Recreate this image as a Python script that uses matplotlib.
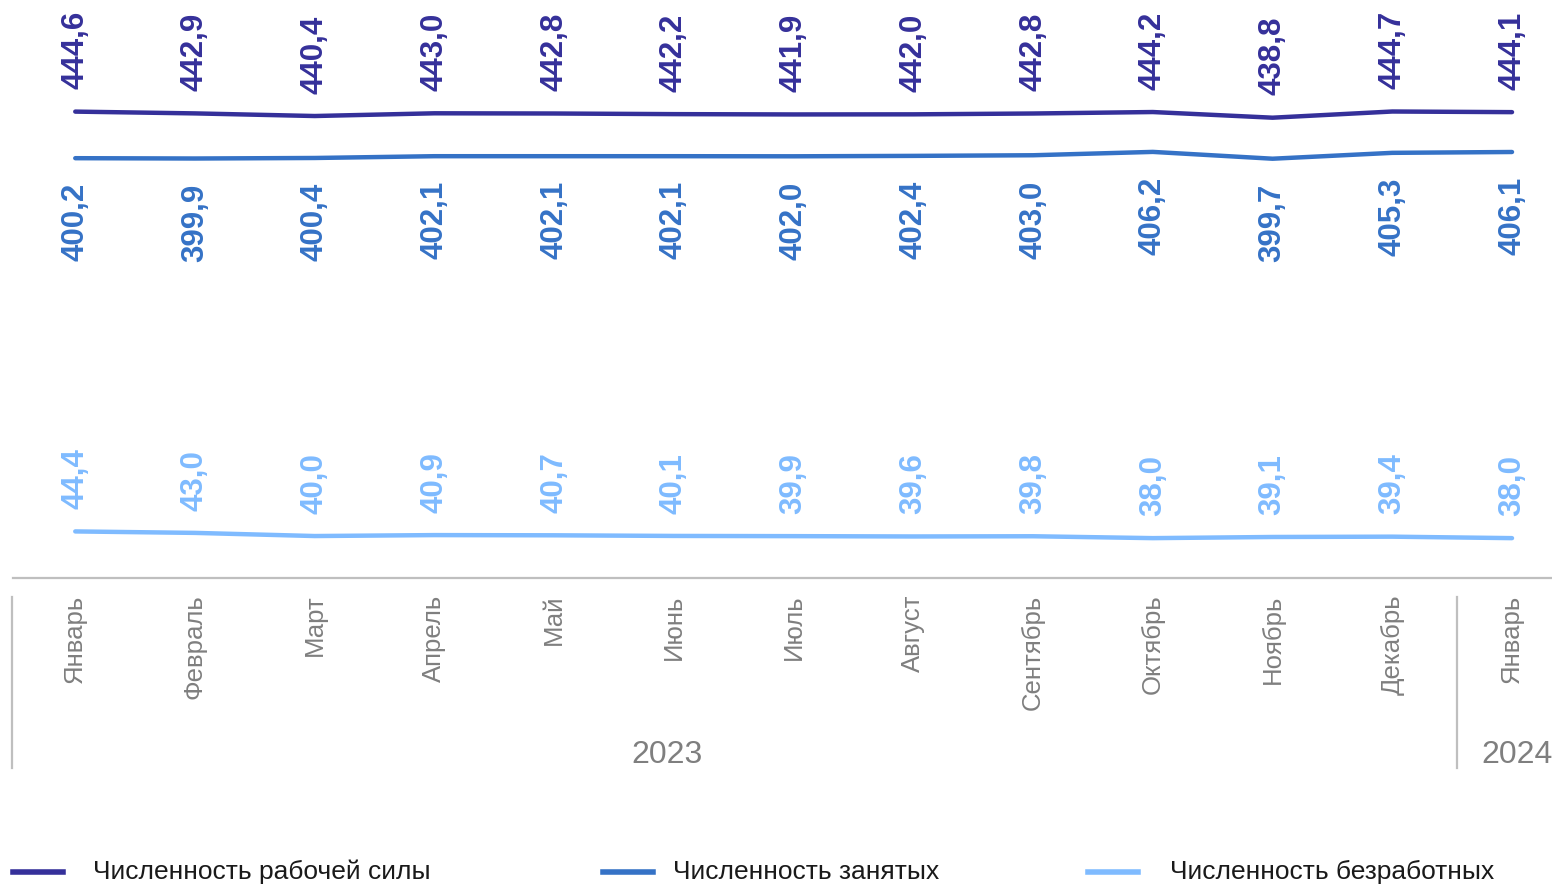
import matplotlib
matplotlib.use("Agg")
import matplotlib.pyplot as plt
from matplotlib.lines import Line2D
import matplotlib.transforms as mtransforms

plt.rcParams['font.family'] = ['Liberation Sans', 'DejaVu Sans']

months = ["Январь", "Февраль", "Март", "Апрель", "Май", "Июнь", "Июль",
          "Август", "Сентябрь", "Октябрь", "Ноябрь", "Декабрь", "Январь"]
years = ["2023", "2024"]
series_names = ["Численность рабочей силы", "Численность занятых", "Численность безработных"]
labor = [444.6, 442.9, 440.4, 443.0, 442.8, 442.2, 441.9, 442.0, 442.8, 444.2, 438.8, 444.7, 444.1]
employed = [400.2, 399.9, 400.4, 402.1, 402.1, 402.1, 402.0, 402.4, 403.0, 406.2, 399.7, 405.3, 406.1]
unemployed = [44.4, 43.0, 40.0, 40.9, 40.7, 40.1, 39.9, 39.6, 39.8, 38.0, 39.1, 39.4, 38.0]

colors = ["#35309A", "#3572C6", "#7FBBFF"]
W, H = 1552, 885
fig = plt.figure(figsize=(W / 100, H / 100), dpi=100)
ax = fig.add_axes([13 / W, 1 - 578 / H, 1 - 13 / W, 578 / H])

x = list(range(len(months)))
ax.set_xlim(-0.52, 12.334)
ax.set_ylim(0, 551)

data = [labor, employed, unemployed]
offsets = [16, -18, 16]
for vals, c, off in zip(data, colors, offsets):
    ax.plot(x, vals, color=c, lw=3.2, solid_capstyle='round', solid_joinstyle='round')
    for xi, v in zip(x, vals):
        ax.annotate(f"{v:.1f}".replace(".", ","), (xi, v), xytext=(0, off),
                    textcoords='offset points', rotation=90, ha='center',
                    va='bottom' if off > 0 else 'top', color=c,
                    fontsize=22.5, fontweight='bold')

for s in ['top', 'right', 'left']:
    ax.spines[s].set_visible(False)
ax.spines['bottom'].set_color('#BFBFBF')
ax.spines['bottom'].set_linewidth(1.6)
ax.set_yticks([])
ax.set_xticks(x)
ax.set_xticklabels(months, rotation=90, fontsize=18.5, color='#7F7F7F')
ax.tick_params(axis='x', length=0, pad=12)

trans = mtransforms.blended_transform_factory(ax.transData, fig.transFigure)
for xs in [-0.53, 11.54]:
    ax.add_line(Line2D([xs, xs], [1 - 597 / H, 1 - 768 / H], transform=trans,
                       color='#BFBFBF', lw=1.6, clip_on=False))
ax.text(4.94, 1 - 755 / H, years[0], transform=trans, ha='center', va='center',
        fontsize=23, color='#7F7F7F')
ax.text(12.04, 1 - 755 / H, years[1], transform=trans, ha='center', va='center',
        fontsize=23, color='#7F7F7F')

# legend
ly = 1 - 872 / H
handle_x = [13, 603, 1088]
text_x = [93, 673, 1170]
for hx, tx, name, c in zip(handle_x, text_x, series_names, colors):
    fig.add_artist(Line2D([hx / W, (hx + 50) / W], [ly, ly], transform=fig.transFigure,
                          color=c, lw=4))
    fig.text(tx / W, ly, name, ha='left', va='center', fontsize=19, color='#1a1a1a')

fig.savefig("out.png", dpi=100)
